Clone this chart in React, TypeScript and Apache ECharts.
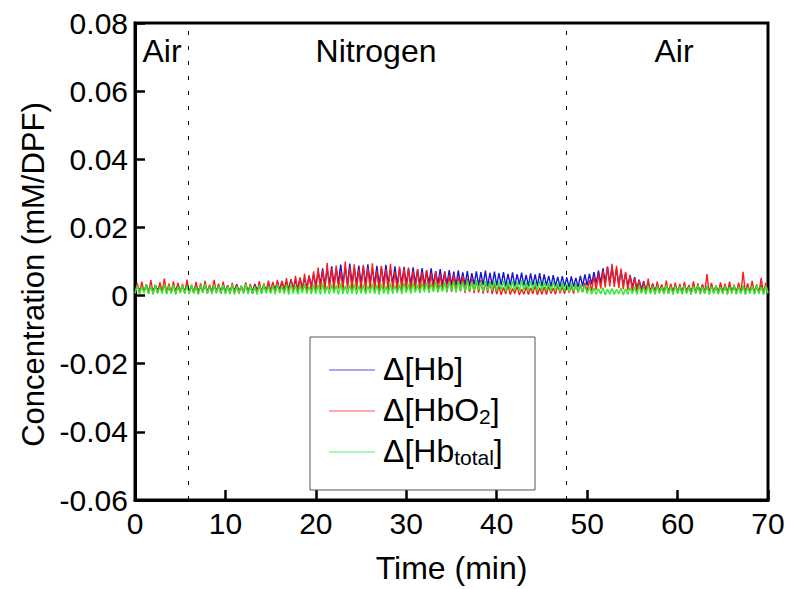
import React, { useEffect, useRef } from "react";
import * as echarts from "echarts";

// Sampling interval of the recordings (minutes)
const SAMPLE_STEP_MIN = 0.25;

// Δ[Hb] (mM/DPF), one value every 0.25 min from 0 to 70 min
const hbValues = [
  0.0012,0.0030,0.0015,0.0027,0.0010,0.0032,0.0014,0.0026,0.0011,0.0031,0.0016,0.0028,0.0012,0.0033,0.0013,0.0025,0.0010,0.0029,0.0015,0.0032,
  0.0011,0.0027,0.0014,0.0031,0.0012,0.0028,0.0010,0.0030,0.0015,0.0026,0.0011,0.0032,0.0013,0.0027,0.0010,0.0029,0.0014,0.0031,0.0012,0.0026,
  0.0013,0.0030,0.0011,0.0028,0.0015,0.0033,0.0012,0.0027,0.0010,0.0031,0.0014,0.0029,0.0012,0.0034,0.0016,0.0028,0.0013,0.0032,0.0015,0.0035,
  0.0015,0.0036,0.0017,0.0040,0.0016,0.0042,0.0019,0.0039,0.0018,0.0047,0.0021,0.0044,0.0020,0.0052,0.0023,0.0049,0.0024,0.0058,0.0027,0.0063,
  0.0030,0.0072,0.0034,0.0080,0.0031,0.0077,0.0036,0.0086,0.0033,0.0079,0.0038,0.0091,0.0035,0.0083,0.0032,0.0094,0.0037,0.0081,0.0034,0.0088,
  0.0036,0.0085,0.0033,0.0092,0.0038,0.0079,0.0035,0.0087,0.0031,0.0082,0.0037,0.0090,0.0034,0.0078,0.0036,0.0086,0.0032,0.0080,0.0035,0.0084,
  0.0034,0.0079,0.0031,0.0083,0.0036,0.0076,0.0033,0.0081,0.0030,0.0074,0.0035,0.0080,0.0032,0.0072,0.0034,0.0078,0.0030,0.0071,0.0033,0.0075,
  0.0031,0.0070,0.0029,0.0074,0.0033,0.0068,0.0030,0.0072,0.0028,0.0066,0.0032,0.0071,0.0029,0.0069,0.0031,0.0073,0.0027,0.0067,0.0030,0.0070,
  0.0029,0.0066,0.0031,0.0069,0.0027,0.0064,0.0030,0.0068,0.0028,0.0063,0.0032,0.0067,0.0029,0.0061,0.0027,0.0065,0.0030,0.0062,0.0028,0.0066,
  0.0027,0.0062,0.0029,0.0058,0.0026,0.0060,0.0028,0.0055,0.0025,0.0057,0.0027,0.0053,0.0024,0.0056,0.0026,0.0052,0.0025,0.0058,0.0028,0.0062,
  0.0030,0.0064,0.0033,0.0069,0.0035,0.0073,0.0037,0.0080,0.0040,0.0085,0.0038,0.0083,0.0036,0.0078,0.0034,0.0072,0.0031,0.0066,0.0028,0.0060,
  0.0024,0.0054,0.0020,0.0047,0.0018,0.0042,0.0015,0.0037,0.0013,0.0034,0.0011,0.0032,0.0012,0.0030,0.0010,0.0031,0.0013,0.0029,0.0011,0.0030,
  0.0012,0.0028,0.0010,0.0031,0.0013,0.0027,0.0011,0.0030,0.0009,0.0029,0.0012,0.0032,0.0010,0.0027,0.0013,0.0030,0.0011,0.0028,0.0010,0.0031,
  0.0012,0.0029,0.0010,0.0032,0.0013,0.0027,0.0011,0.0030,0.0009,0.0028,0.0012,0.0031,0.0010,0.0029,0.0013,0.0027,0.0011,0.0030,0.0010,0.0028,
  0.0012,
];

// Δ[HbO2] (mM/DPF)
const hbo2Values = [
  0.0008,0.0036,0.0006,0.0041,0.0010,0.0033,0.0005,0.0045,0.0009,0.0030,0.0007,0.0039,0.0011,0.0050,0.0006,0.0035,0.0008,0.0042,0.0005,0.0037,
  0.0009,0.0034,0.0006,0.0047,0.0010,0.0031,0.0007,0.0040,0.0005,0.0036,0.0009,0.0043,0.0006,0.0032,0.0010,0.0046,0.0007,0.0035,0.0005,0.0041,
  0.0008,0.0030,0.0005,0.0037,0.0009,0.0033,0.0006,0.0028,0.0010,0.0039,0.0007,0.0034,0.0005,0.0031,0.0009,0.0042,0.0006,0.0036,0.0010,0.0044,
  0.0009,0.0040,0.0011,0.0046,0.0008,0.0043,0.0012,0.0051,0.0010,0.0048,0.0013,0.0058,0.0011,0.0053,0.0014,0.0064,0.0012,0.0060,0.0015,0.0071,
  0.0013,0.0082,0.0017,0.0074,0.0012,0.0096,0.0018,0.0079,0.0014,0.0088,0.0020,0.0071,0.0015,0.0100,0.0019,0.0083,0.0013,0.0092,0.0017,0.0077,
  0.0016,0.0090,0.0013,0.0081,0.0019,0.0095,0.0015,0.0073,0.0012,0.0087,0.0018,0.0078,0.0014,0.0093,0.0017,0.0070,0.0013,0.0085,0.0016,0.0080,
  0.0014,0.0082,0.0011,0.0072,0.0016,0.0078,0.0012,0.0068,0.0015,0.0075,0.0010,0.0066,0.0013,0.0071,0.0011,0.0062,0.0014,0.0068,0.0010,0.0060,
  0.0011,0.0062,0.0009,0.0055,0.0012,0.0058,0.0008,0.0049,0.0010,0.0052,0.0007,0.0044,0.0009,0.0046,0.0006,0.0039,0.0008,0.0041,0.0005,0.0034,
  0.0004,0.0028,0.0002,0.0024,0.0005,0.0030,0.0003,0.0021,0.0006,0.0027,0.0002,0.0019,0.0004,0.0026,0.0003,0.0022,0.0005,0.0029,0.0002,0.0023,
  0.0004,0.0025,0.0003,0.0028,0.0006,0.0022,0.0004,0.0030,0.0007,0.0026,0.0005,0.0032,0.0008,0.0029,0.0006,0.0034,0.0009,0.0031,0.0010,0.0038,
  0.0012,0.0045,0.0014,0.0056,0.0017,0.0063,0.0020,0.0072,0.0024,0.0084,0.0027,0.0093,0.0025,0.0087,0.0022,0.0079,0.0019,0.0070,0.0016,0.0061,
  0.0013,0.0052,0.0010,0.0045,0.0008,0.0039,0.0006,0.0050,0.0007,0.0036,0.0005,0.0041,0.0008,0.0033,0.0006,0.0044,0.0005,0.0035,0.0007,0.0038,
  0.0006,0.0034,0.0005,0.0040,0.0008,0.0031,0.0004,0.0042,0.0007,0.0036,0.0005,0.0033,0.0006,0.0063,0.0004,0.0037,0.0007,0.0030,0.0005,0.0039,
  0.0006,0.0035,0.0004,0.0041,0.0007,0.0032,0.0005,0.0038,0.0006,0.0070,0.0004,0.0036,0.0007,0.0043,0.0005,0.0033,0.0006,0.0052,0.0004,0.0037,
  0.0008,
];

// Δ[Hbtotal] (mM/DPF)
const hbTotalValues = [
  0.0006,0.0030,0.0004,0.0027,0.0008,0.0033,0.0005,0.0028,0.0003,0.0031,0.0007,0.0026,0.0005,0.0034,0.0004,0.0029,0.0006,0.0032,0.0003,0.0027,
  0.0007,0.0031,0.0005,0.0028,0.0004,0.0033,0.0006,0.0026,0.0003,0.0030,0.0008,0.0034,0.0005,0.0027,0.0004,0.0032,0.0007,0.0029,0.0005,0.0031,
  0.0004,0.0028,0.0006,0.0032,0.0003,0.0027,0.0007,0.0030,0.0005,0.0034,0.0004,0.0029,0.0006,0.0026,0.0003,0.0031,0.0005,0.0033,0.0007,0.0028,
  0.0006,0.0030,0.0004,0.0033,0.0007,0.0028,0.0005,0.0032,0.0003,0.0035,0.0006,0.0029,0.0004,0.0031,0.0007,0.0034,0.0005,0.0027,0.0004,0.0032,
  0.0005,0.0031,0.0003,0.0035,0.0006,0.0028,0.0004,0.0033,0.0007,0.0030,0.0003,0.0036,0.0005,0.0029,0.0004,0.0032,0.0006,0.0034,0.0003,0.0030,
  0.0006,0.0033,0.0004,0.0029,0.0007,0.0035,0.0005,0.0031,0.0003,0.0034,0.0006,0.0028,0.0004,0.0036,0.0005,0.0030,0.0007,0.0033,0.0004,0.0037,
  0.0008,0.0034,0.0006,0.0038,0.0009,0.0033,0.0007,0.0036,0.0010,0.0039,0.0008,0.0035,0.0011,0.0040,0.0009,0.0034,0.0012,0.0038,0.0010,0.0041,
  0.0013,0.0040,0.0011,0.0043,0.0014,0.0039,0.0012,0.0044,0.0015,0.0041,0.0013,0.0045,0.0016,0.0040,0.0012,0.0042,0.0014,0.0038,0.0015,0.0044,
  0.0013,0.0041,0.0015,0.0044,0.0012,0.0039,0.0016,0.0043,0.0014,0.0040,0.0013,0.0045,0.0015,0.0038,0.0012,0.0042,0.0016,0.0040,0.0014,0.0043,
  0.0013,0.0040,0.0015,0.0038,0.0012,0.0041,0.0014,0.0036,0.0011,0.0039,0.0013,0.0035,0.0010,0.0037,0.0012,0.0033,0.0009,0.0034,0.0010,0.0030,
  0.0006,0.0026,0.0004,0.0022,0.0003,0.0020,0.0005,0.0023,0.0002,0.0019,0.0004,0.0021,0.0003,0.0018,0.0005,0.0022,0.0002,0.0020,0.0004,0.0024,
  0.0005,0.0026,0.0003,0.0029,0.0006,0.0025,0.0004,0.0030,0.0005,0.0027,0.0003,0.0028,0.0006,0.0025,0.0004,0.0031,0.0005,0.0026,0.0003,0.0029,
  0.0006,0.0027,0.0004,0.0030,0.0005,0.0025,0.0003,0.0028,0.0006,0.0031,0.0004,0.0026,0.0005,0.0029,0.0003,0.0027,0.0006,0.0030,0.0004,0.0025,
  0.0005,0.0028,0.0003,0.0026,0.0006,0.0030,0.0004,0.0027,0.0005,0.0029,0.0003,0.0025,0.0006,0.0028,0.0004,0.0031,0.0005,0.0026,0.0003,0.0029,
  0.0006,
];

// Gas switch times (min) and phase names
const phaseBoundaries = [5.9, 47.7];
const phaseLabels = ["Air", "Nitrogen", "Air"];

const xTitle = "Time (min)";
const yTitle = "Concentration (mM/DPF)";

const COLORS = { hb: "#1616cc", hbo2: "#ff1a1a", total: "#2bee2b" };
const FONT = "'Liberation Sans', Arial, Helvetica, sans-serif";

const toPairs = (vals: number[]) => vals.map((v, i) => [i * SAMPLE_STEP_MIN, v]);

export default function App() {
  const ref = useRef<HTMLDivElement>(null);

  useEffect(() => {
    if (!ref.current) return;
    const chart = echarts.init(ref.current, undefined, { renderer: "svg" });

    const phaseTextPos = [162, 376, 674];
    const legendRows = [
      { y: 369, color: COLORS.hb, text: "Δ[Hb]" },
      { y: 410, color: COLORS.hbo2, text: "Δ[HbO{sub|2}]" },
      { y: 451, color: COLORS.total, text: "Δ[Hb{sub|total}]" },
    ];

    const graphic: any[] = [];
    phaseLabels.forEach((t, i) => {
      graphic.push({
        type: "text",
        x: phaseTextPos[i],
        y: 51,
        z: 20,
        style: { text: t, font: `32px ${FONT}`, fill: "#000", align: "center", verticalAlign: "middle" },
      });
    });
    graphic.push({
      type: "rect",
      z: 20,
      shape: { x: 310, y: 337, width: 225, height: 153 },
      style: { fill: "#fff", stroke: "#555", lineWidth: 1 },
    });
    legendRows.forEach((r) => {
      graphic.push({
        type: "line",
        z: 21,
        shape: { x1: 329, y1: r.y + 1, x2: 375, y2: r.y + 1 },
        style: { stroke: r.color, lineWidth: 1.2, opacity: 0.75 },
      });
      graphic.push({
        type: "text",
        z: 21,
        x: 383,
        y: r.y,
        style: {
          text: r.text,
          font: `32px ${FONT}`,
          fill: "#000",
          verticalAlign: "middle",
          rich: { sub: { fontSize: 21, fontFamily: FONT, fill: "#000", verticalAlign: "bottom", padding: [0, 0, -1, 0] } },
        },
      });
    });

    const lineSeries = (name: string, vals: number[], color: string, extra: any = {}) => ({
      name,
      type: "line",
      data: toPairs(vals),
      showSymbol: false,
      symbol: "none",
      lineStyle: { color, width: 1.4 },
      itemStyle: { color },
      silent: true,
      ...extra,
    });

    chart.setOption({
      animation: false,
      backgroundColor: "#fff",
      grid: {
        left: 135,
        right: 22,
        top: 23,
        bottom: 86,
        show: true,
        borderColor: "#000",
        borderWidth: 3,
        backgroundColor: "transparent",
      },
      xAxis: {
        type: "value",
        min: 0,
        max: 70,
        interval: 10,
        name: xTitle,
        nameLocation: "middle",
        nameGap: 52,
        nameTextStyle: { fontSize: 32, fontFamily: FONT, color: "#000" },
        axisLine: { show: true, onZero: false, lineStyle: { color: "#000", width: 3 } },
        axisTick: { show: true, inside: true, length: 10, lineStyle: { color: "#000", width: 2.5 } },
        axisLabel: { fontSize: 30, fontFamily: FONT, color: "#000", margin: 8 },
        splitLine: { show: false },
      },
      yAxis: {
        type: "value",
        min: -0.06,
        max: 0.08,
        interval: 0.02,
        name: yTitle,
        nameLocation: "middle",
        nameGap: 86,
        nameRotate: 90,
        nameTextStyle: { fontSize: 31, fontFamily: FONT, color: "#000", padding: [0, 26, 0, 0] },
        axisLine: { show: true, onZero: false, lineStyle: { color: "#000", width: 3 } },
        axisTick: { show: true, inside: true, length: 10, lineStyle: { color: "#000", width: 2.5 } },
        axisLabel: {
          fontSize: 30,
          fontFamily: FONT,
          color: "#000",
          margin: 7,
          formatter: (v: number) => (Math.abs(v) < 1e-9 ? "0" : v.toFixed(2)),
        },
        splitLine: { show: false },
      },
      series: [
        lineSeries("Δ[Hb]", hbValues, COLORS.hb, {
          markLine: {
            silent: true,
            symbol: "none",
            label: { show: false },
            lineStyle: { color: "#000", type: [4, 11], width: 1 },
            data: phaseBoundaries.map((x) => ({ xAxis: x })),
          },
        }),
        lineSeries("Δ[HbO2]", hbo2Values, COLORS.hbo2),
        lineSeries("Δ[Hbtotal]", hbTotalValues, COLORS.total),
      ],
      graphic,
    });

    return () => chart.dispose();
  }, []);

  return <div ref={ref} style={{ position: "fixed", left: 0, top: 0, width: 790, height: 589 }} />;
}
